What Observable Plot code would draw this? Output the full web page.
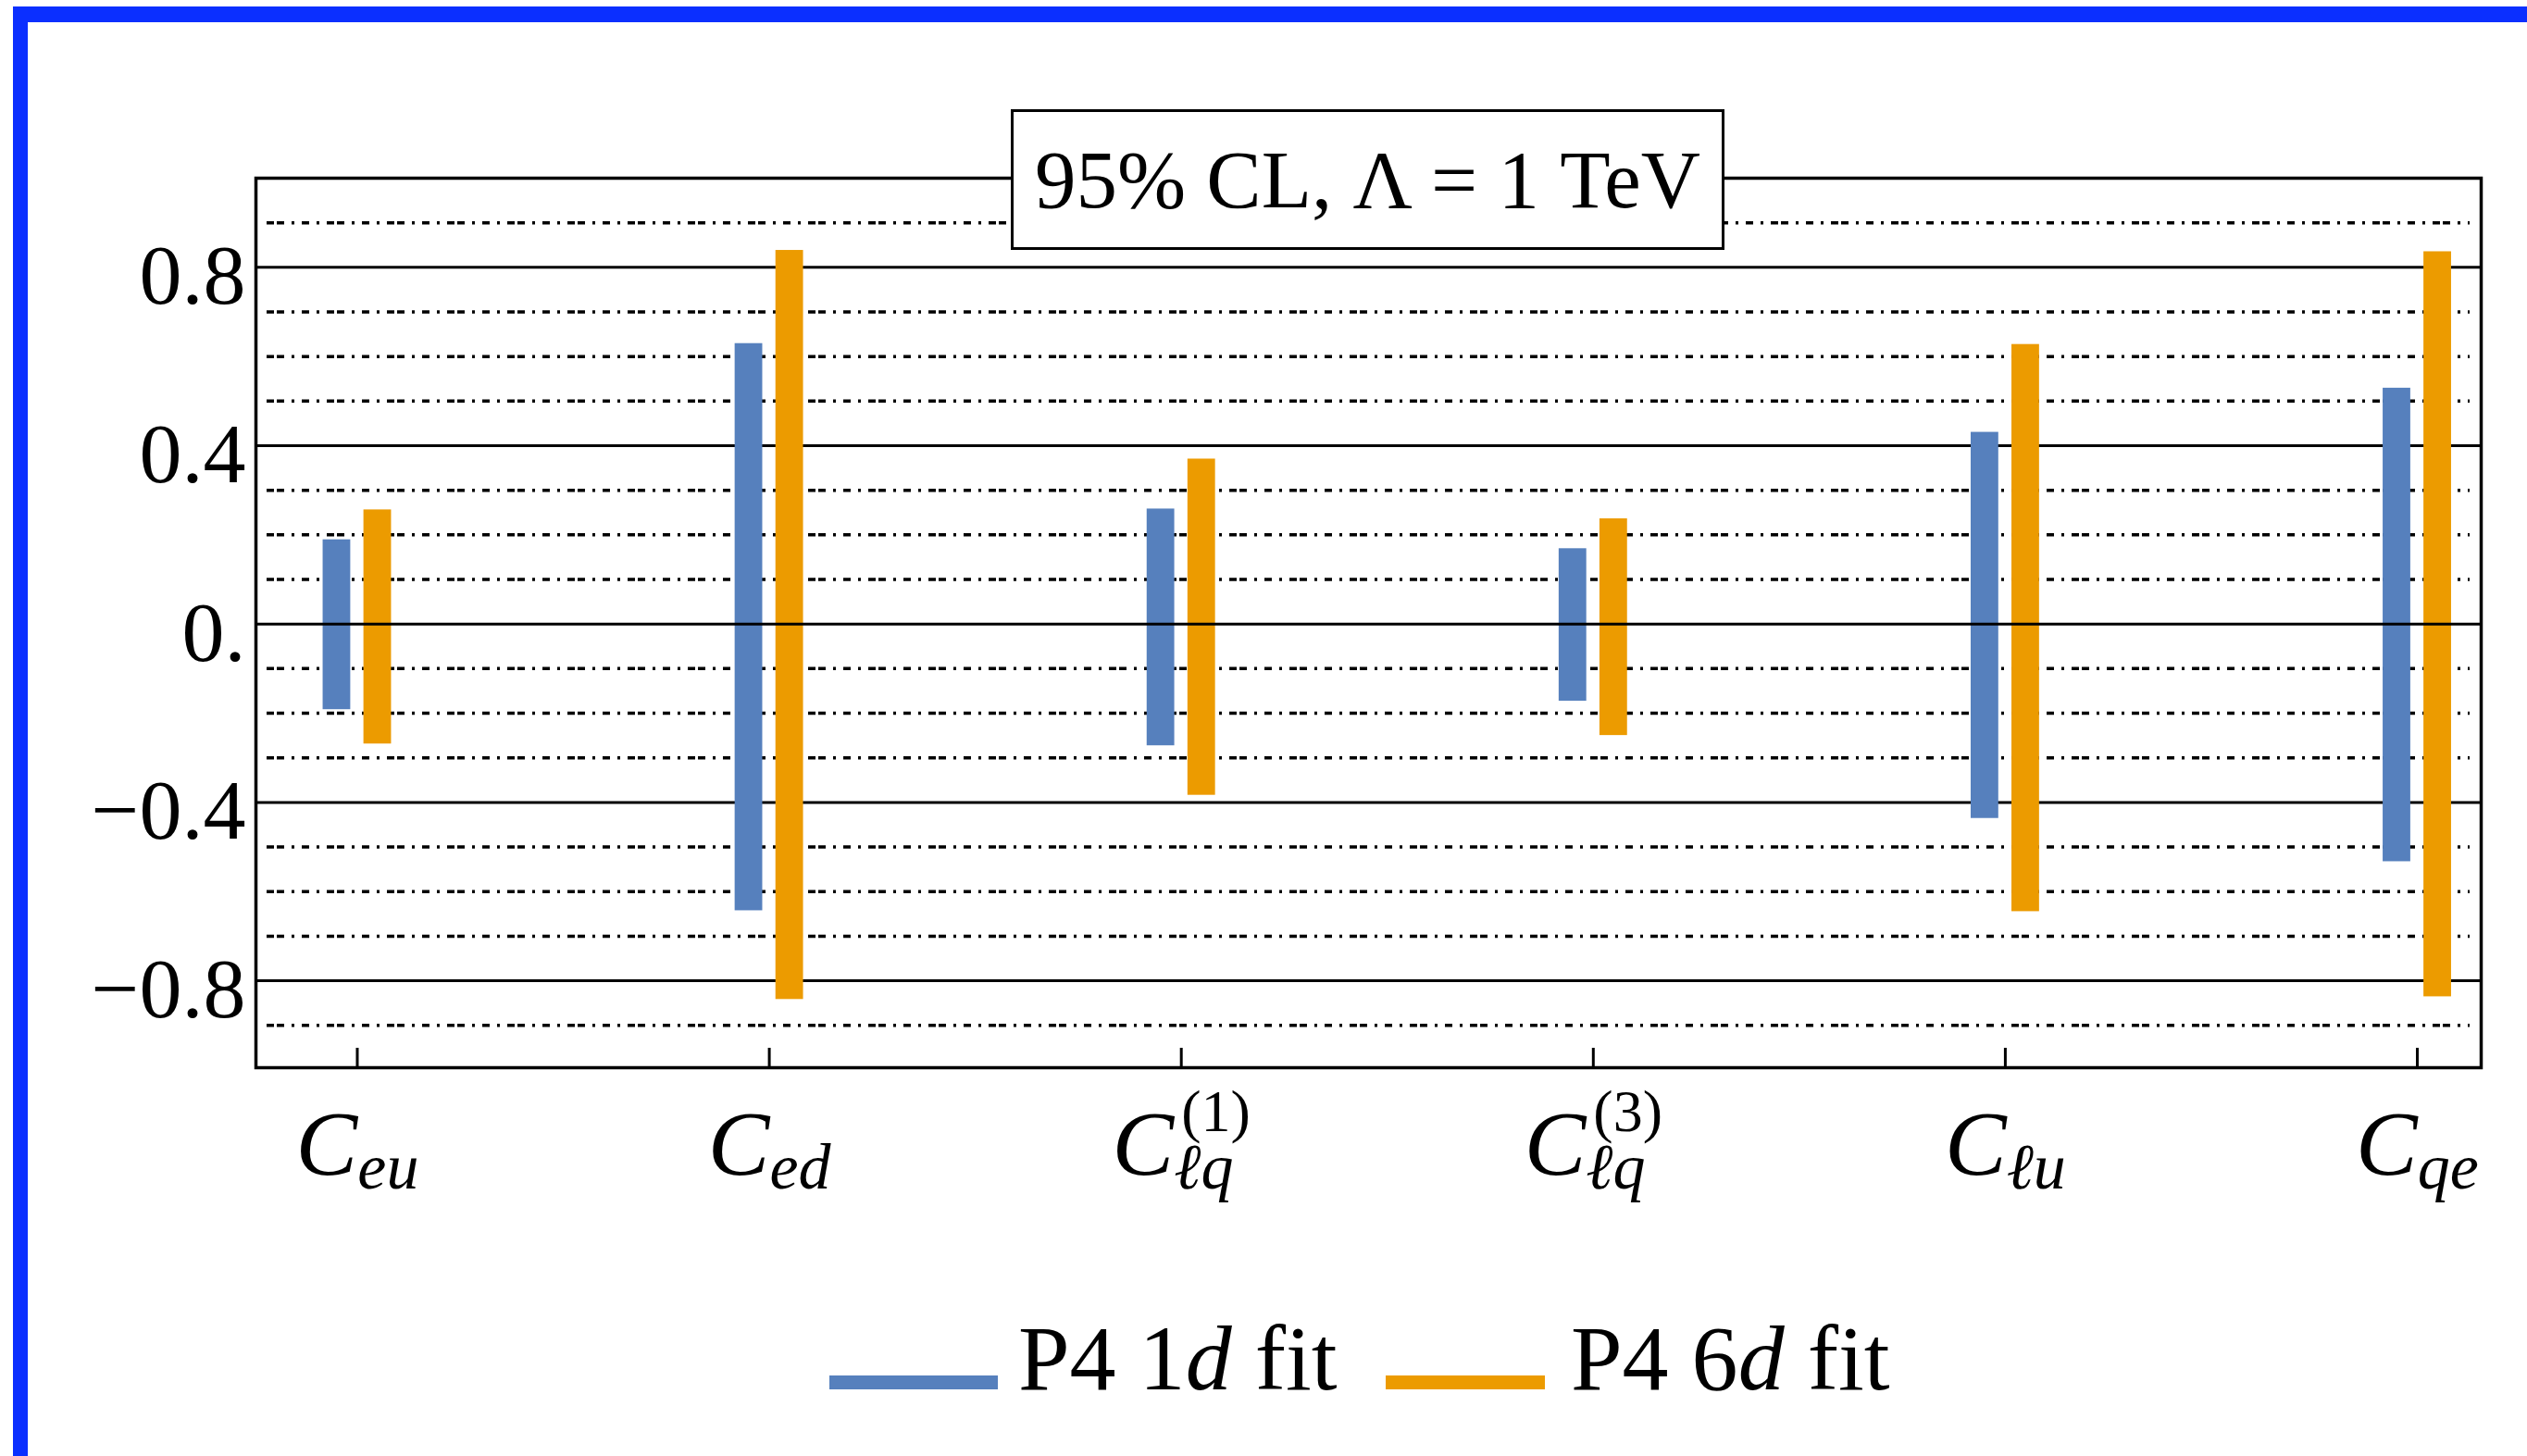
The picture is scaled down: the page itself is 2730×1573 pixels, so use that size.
<!DOCTYPE html>
<html><head><meta charset="utf-8">
<script src="https://cdn.jsdelivr.net/npm/d3@7"></script>
<script src="https://cdn.jsdelivr.net/npm/@observablehq/plot@0.6"></script>
<style>
html,body{margin:0;padding:0;background:#fff;}
#page{position:relative;width:2730px;height:1573px;overflow:hidden;background:#fff;font-family:"Liberation Serif",serif;color:#000;}
#chart{position:absolute;left:0;top:0;}
.bl{position:absolute;background:#0b2fff;z-index:5}
#title{position:absolute;left:1092px;top:118px;width:771px;height:152px;box-sizing:border-box;border:3px solid #000;background:#fff;display:flex;align-items:center;justify-content:center;font-size:89px;z-index:3;white-space:nowrap}
.leg{position:absolute;top:1418px;font-size:100px;line-height:100px;white-space:nowrap}
.sw{display:inline-block;height:15px}
</style></head><body>
<div id="page">
 <div id="chart"></div>
 <div id="title">95% CL, Λ = 1 TeV</div>
 <div id="legend"></div>
 <div class="bl" style="left:14px;top:7px;width:2716px;height:17px"></div>
 <div class="bl" style="left:14px;top:7px;width:16px;height:1566px"></div>
</div>
<script>
// ---- data ----
const categories = ["Ceu", "Ced", "Clq1", "Clq3", "Clu", "Cqe"];
const labelSub = ["eu", "ed", "ℓq", "ℓq", "ℓu", "qe"];
const labelSup = ["", "", "(1)", "(3)", "", ""];
const fit1dLow  = [-0.192, -0.643, -0.273, -0.173, -0.436, -0.533];
const fit1dHigh = [ 0.189,  0.629,  0.258,  0.169,  0.430,  0.529];
const fit6dLow  = [-0.269, -0.842, -0.384, -0.250, -0.645, -0.836];
const fit6dHigh = [ 0.256,  0.838,  0.370,  0.236,  0.627,  0.835];
const majorTicks = [-0.8, -0.4, 0, 0.4, 0.8];
const minorTicks = [-0.9, -0.7, -0.6, -0.5, -0.3, -0.2, -0.1, 0.1, 0.2, 0.3, 0.5, 0.6, 0.7, 0.9];
const seriesPrefix = ["P4 1", "P4 6"];
const seriesColors = ["#5680bd", "#ec9b00"];

const rows = categories.map((c, k) => ({
  i: k + 1, c,
  lo1: fit1dLow[k], hi1: fit1dHigh[k],
  lo6: fit6dLow[k], hi6: fit6dHigh[k]
}));

const fmtY = d => d === 0 ? "0." : (d < 0 ? "\u2212" : "") + Math.abs(d).toFixed(1);

const chart = Plot.plot({
  width: 2730, height: 1340,
  marginLeft: 276, marginRight: 50, marginTop: 192, marginBottom: 187,
  style: {fontFamily: '"Liberation Serif", serif', background: "transparent", color: "#000"},
  x: {domain: [0.754, 6.155]},
  y: {domain: [-0.995, 1.0]},
  marks: [
    Plot.ruleY(minorTicks, {stroke: "#000", strokeWidth: 3.5, strokeDasharray: "8,3,8,8,3,8,8,8,3,8", insetLeft: 12, insetRight: 12}),
    Plot.ruleY(majorTicks.filter(d => d !== 0), {stroke: "#000", strokeWidth: 3}),
    Plot.rect(rows, {x1: d => d.i - 0.083, x2: d => d.i - 0.016, y1: "lo1", y2: "hi1", fill: seriesColors[0]}),
    Plot.rect(rows, {x1: d => d.i + 0.016, x2: d => d.i + 0.083, y1: "lo6", y2: "hi6", fill: seriesColors[1]}),
    Plot.ruleY([0], {stroke: "#000", strokeWidth: 3}),
    Plot.frame({stroke: "#000", strokeWidth: 3.5}),
    Plot.ruleX(rows, {x: "i", stroke: "#000", strokeWidth: 3, insetTop: 940}),
    Plot.axisX({ticks: rows.map(d => d.i), tickSize: 0, tickPadding: 44, fontSize: 100, label: null, tickFormat: i => categories[i - 1]}),
    Plot.axisY({ticks: majorTicks, tickSize: 0, tickPadding: 11, fontSize: 92, dy: 10, label: null, tickFormat: fmtY})
  ]
});
document.getElementById("chart").appendChild(chart);

// rich x tick labels (italic C with sub/superscripts)
const NS = "http://www.w3.org/2000/svg";
const xTexts = chart.querySelectorAll('g[aria-label="x-axis tick label"] text');
xTexts.forEach((t, k) => {
  t.textContent = "";
  const main = document.createElementNS(NS, "tspan");
  main.setAttribute("font-style", "italic");
  main.textContent = "C";
  t.appendChild(main);
  const sub = document.createElementNS(NS, "tspan");
  sub.setAttribute("font-style", "italic");
  sub.setAttribute("font-size", "70");
  sub.setAttribute("dy", "15");
  sub.textContent = labelSub[k];
  t.appendChild(sub);
  if (labelSup[k]) {
    const w = sub.getComputedTextLength();
    const sup = document.createElementNS(NS, "tspan");
    sup.setAttribute("font-size", "64");
    sup.setAttribute("dx", String(-w + 8));
    sup.setAttribute("dy", "-62");
    sup.textContent = labelSup[k];
    t.appendChild(sup);
  }
});

// legend
const legend = document.getElementById("legend");
const legLeft = [896, 1497];
const swW = [182, 172];
const gap = [22, 28];
seriesPrefix.forEach((p, k) => {
  const item = document.createElement("div");
  item.className = "leg";
  item.style.left = legLeft[k] + "px";
  item.innerHTML = `<span class="sw" style="width:${swW[k]}px;background:${seriesColors[k]}"></span><span style="margin-left:${gap[k]}px">${p}<i>d</i> fit</span>`;
  legend.appendChild(item);
});
</script>
</body></html>
